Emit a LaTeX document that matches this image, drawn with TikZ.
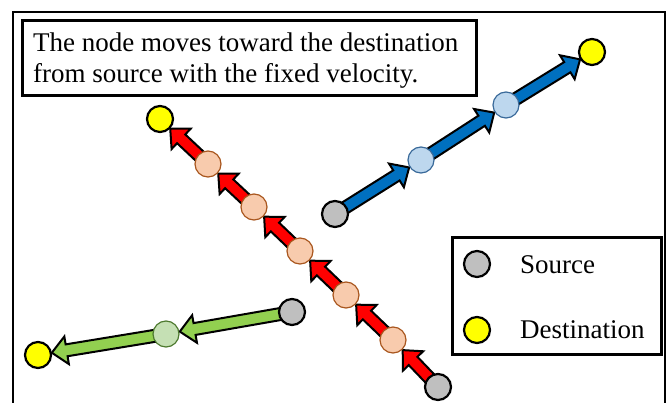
\documentclass[tikz,border=0pt]{standalone}
\usepackage{fontspec}
\setmainfont{Liberation Serif}
\usetikzlibrary{calc,backgrounds}
\definecolor{srcgray}{HTML}{BFBFBF}
\definecolor{dstyellow}{HTML}{FFFF00}
\definecolor{peachfill}{HTML}{F8CBAD}
\definecolor{peachline}{HTML}{A9571F}
\definecolor{lbluefill}{HTML}{BDD7EE}
\definecolor{lblueline}{HTML}{3A6A9A}
\definecolor{lgreenfill}{HTML}{C5E0B4}
\definecolor{lgreenline}{HTML}{4E7A30}
\definecolor{arrred}{HTML}{FF0000}
\definecolor{arrblue}{HTML}{0070C0}
\definecolor{arrgreen}{HTML}{92D050}
\newcommand{\arrpt}[2]{({\x1+(#1)*cos(\n1)-(#2)*sin(\n1)},{\y1+(#1)*sin(\n1)+(#2)*cos(\n1)})}
\newcommand{\blockarrow}[3]{%
  \draw[#1] let \p1=(#2.center), \p2=(#3.center),
    \n1={atan2(\y2-\y1,\x2-\x1)}, \n2={veclen(\x2-\x1,\y2-\y1)} in
    \arrpt{11}{6} -- \arrpt{\n2-29}{6} -- \arrpt{\n2-29}{14} -- \arrpt{\n2-14}{0}
    -- \arrpt{\n2-29}{-14} -- \arrpt{\n2-29}{-6} -- \arrpt{11}{-6} -- cycle;}
\tikzset{
  x=1pt, y=-1pt,
  dot/.style={circle, minimum size=26pt, inner sep=0pt},
  srcdot/.style={dot, fill=srcgray, draw=black, line width=2.2pt},
  dstdot/.style={dot, fill=dstyellow, draw=black, line width=2.2pt},
  peachdot/.style={dot, fill=peachfill, draw=peachline, line width=1.2pt},
  bluedot/.style={dot, fill=lbluefill, draw=lblueline, line width=1.2pt},
  greendot/.style={dot, fill=lgreenfill, draw=lgreenline, line width=1.2pt},
  redarrow/.style={fill=arrred, draw=black, line width=2pt, line join=miter},
  bluearrow/.style={fill=arrblue, draw=black, line width=2pt, line join=miter},
  greenarrow/.style={fill=arrgreen, draw=black, line width=2pt, line join=miter},
  boxframe/.style={draw=black, line width=3pt},
  bigtext/.style={font=\fontsize{27}{31}\selectfont, inner sep=0pt},
}
\begin{document}
\begin{tikzpicture}
\useasboundingbox (0,0) rectangle (669,403);
% outer frame
\draw[line width=2.2pt] (13,403) -- (13,12) -- (665,12) -- (665,403);
% title box
\draw[boxframe] (22,21) rectangle (476,96);
\node[bigtext, anchor=base west] (title1) at (33,52) {The node moves toward the destination};
\node[bigtext, anchor=base west] (title2) at (33,83) {from source with the fixed velocity.};
% legend
\draw[boxframe] (452,238) rectangle (661,354);
\node[srcdot] (legsrc) at (477,264) {};
\node[dstdot] (legdst) at (477,330) {};
\node[bigtext, anchor=base west] (legsrctext) at (520,273) {Source};
\node[bigtext, anchor=base west] (legdsttext) at (520,338) {Destination};
% nodes
\node[srcdot] (bs) at (335,214) {};
\node[bluedot] (b1) at (421,160) {};
\node[bluedot] (b2) at (506,105) {};
\node[dstdot] (bd) at (592,52) {};
\node[srcdot] (rs) at (438,387) {};
\node[peachdot] (r1) at (393,340) {};
\node[peachdot] (r2) at (346,295) {};
\node[peachdot] (r3) at (300,251) {};
\node[peachdot] (r4) at (254,207) {};
\node[peachdot] (r5) at (208,164) {};
\node[dstdot] (rd) at (160,119) {};
\node[srcdot] (gs) at (292,312) {};
\node[greendot] (g1) at (166,334) {};
\node[dstdot] (gd) at (38,355) {};
% arrows (behind circles)
\begin{pgfonlayer}{background}
\blockarrow{bluearrow}{bs}{b1}
\blockarrow{bluearrow}{b1}{b2}
\blockarrow{bluearrow}{b2}{bd}
\blockarrow{redarrow}{rs}{r1}
\blockarrow{redarrow}{r1}{r2}
\blockarrow{redarrow}{r2}{r3}
\blockarrow{redarrow}{r3}{r4}
\blockarrow{redarrow}{r4}{r5}
\blockarrow{redarrow}{r5}{rd}
\blockarrow{greenarrow}{gs}{g1}
\blockarrow{greenarrow}{g1}{gd}
\end{pgfonlayer}
\end{tikzpicture}
\end{document}
